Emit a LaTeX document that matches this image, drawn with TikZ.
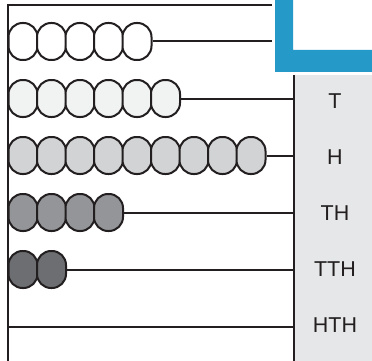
\documentclass[tikz,border=0pt]{standalone}
\usepackage{fontspec}
\setmainfont{Liberation Sans}
\definecolor{abblue}{HTML}{2599C7}
\definecolor{panelgray}{HTML}{E6E7E8}
\definecolor{inkdark}{HTML}{231F20}
\definecolor{beadone}{HTML}{FFFFFF}
\definecolor{beadtwo}{HTML}{F1F2F2}
\definecolor{beadthree}{HTML}{D1D3D4}
\definecolor{beadfour}{HTML}{939598}
\definecolor{beadfive}{HTML}{6D6E71}
\tikzset{
  bead/.style={draw=inkdark, line width=2pt, rounded corners=14pt, minimum width=29pt, minimum height=37pt, inner sep=0pt},
  rod/.style={draw=inkdark, line width=2pt},
  place/.style={font=\fontsize{21.5}{21.5}\selectfont, text=inkdark, text height=15.4pt, text depth=0pt, inner sep=0pt}
}
\begin{document}
\begin{tikzpicture}[x=1pt, y=-1pt]
    \useasboundingbox (0,0) rectangle (372,361);
    % panel and corner mark
    \fill[panelgray] (294,75) rectangle (372,361);
    \fill[abblue] (275,0) -- (275,72) -- (372,72) -- (372,50) -- (293,50) -- (293,0) -- cycle;
    % frame
    \coordinate (bottomleft) at (8,361);
    \coordinate (topleft) at (8,5.5);
    \coordinate (topright) at (272,5.5);
    \coordinate (panelTop) at (294,75);
    \coordinate (panelBottom) at (294,361);
    \draw[rod] (bottomleft) -- (topleft) -- (topright);
    \draw[rod] (panelTop) -- (panelBottom);
    % rod ends
    \coordinate (end1) at (272,41.5);
    \coordinate (end2) at (294,98.5);
    \coordinate (end3) at (294,155.5);
    \coordinate (end4) at (294,212.5);
    \coordinate (end5) at (294,269.5);
    \coordinate (end6) at (294,326.5);
    \coordinate (start6) at (8,326.5);
    % beads
    \foreach \row/\num/\shade in {1/5/beadone, 2/6/beadtwo, 3/9/beadthree, 4/4/beadfour, 5/2/beadfive}
        \foreach \i in {1,...,\num}
            \node[bead, fill=\shade] (b\row-\i) at ({23+28.5*(\i-1)}, {41.5+57*(\row-1)}) {};
    \draw[rod] (b1-5.east) -- (end1);
    \draw[rod] (b2-6.east) -- (end2);
    \draw[rod] (b3-9.east) -- (end3);
    \draw[rod] (b4-4.east) -- (end4);
    \draw[rod] (b5-2.east) -- (end5);
    \draw[rod] (start6) -- (end6);
    % place labels
    \node[place] (lT) at (335,101) {T};
    \node[place] (lH) at (335,157) {H};
    \node[place] (lTH) at (335,213) {TH};
    \node[place] (lTTH) at (335,269) {TTH};
    \node[place] (lHTH) at (335,325) {HTH};
\end{tikzpicture}
\end{document}
